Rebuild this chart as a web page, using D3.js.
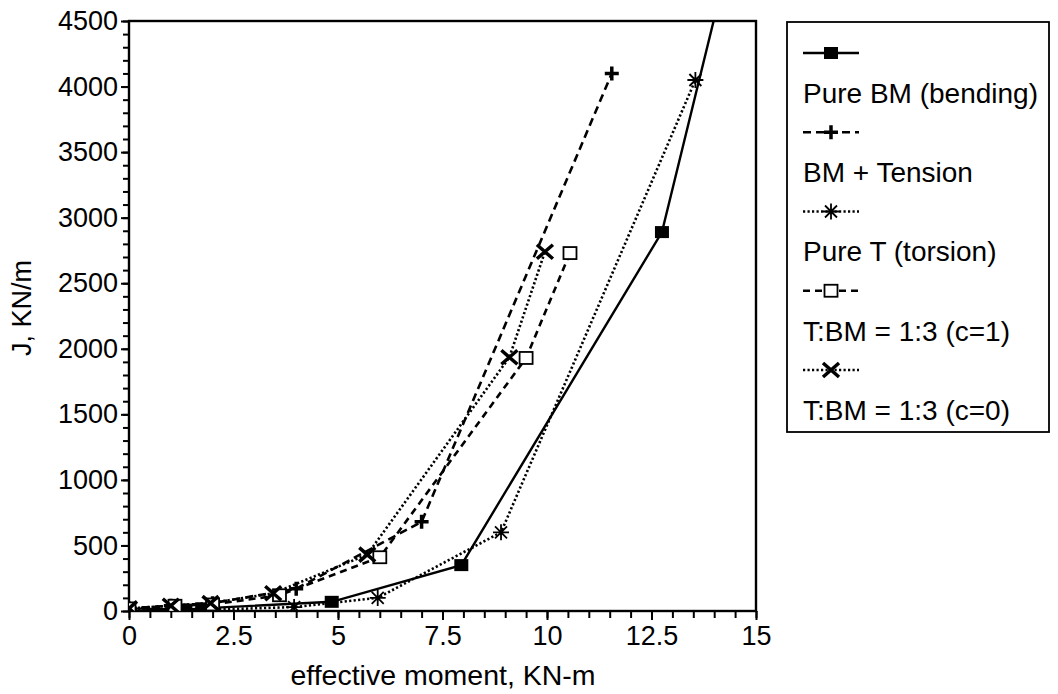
<!DOCTYPE html>
<html>
<head>
    <title>J vs effective moment</title>
    <style>
        body {
            margin: 0;
            background: #fff;
        }
        svg text {
            font-family: "Liberation Sans", Arial, Helvetica, sans-serif;
            fill: #000;
        }
    </style>
</head>
<body>
    <svg id="chart" width="1058" height="694"></svg>

    <script src="https://d3js.org/d3.v7.min.js"></script>
    <script>
        // values: [effective moment KN-m, J KN/m]
        const pureBM = [[0, 20], [1.35, 10], [1.75, 20], [4.85, 70], [7.95, 350], [12.75, 2890], [14.6, 5300]];
        const bmTension = [[0, 20], [1.0, 40], [2.0, 60], [4.0, 170], [7.0, 680], [11.55, 4100]];
        const pureT = [[0, 10], [1.95, 10], [3.95, 30], [5.95, 100], [8.9, 600], [13.55, 4050]];
        const ratioC1 = [[0, 20], [1.1, 40], [2.0, 50], [3.6, 120], [6.0, 410], [9.5, 1930], [10.55, 2730]];
        const ratioC0 = [[0, 20], [1.0, 40], [1.95, 60], [3.45, 135], [5.7, 430], [9.1, 1935], [9.95, 2740]];

        const seriesNames = ['Pure BM (bending)', 'BM + Tension', 'Pure T (torsion)', 'T:BM = 1:3 (c=1)', 'T:BM = 1:3 (c=0)'];
        const xTicks = [0, 2.5, 5, 7.5, 10, 12.5, 15];
        const yTicks = [0, 500, 1000, 1500, 2000, 2500, 3000, 3500, 4000, 4500];

        const series = [
            { name: seriesNames[0], data: pureBM, dash: null, width: 2.4, marker: 'fsquare' },
            { name: seriesNames[1], data: bmTension, dash: '8,5', width: 2.6, marker: 'plus' },
            { name: seriesNames[2], data: pureT, dash: '2.2,2.3', width: 2.6, marker: 'star' },
            { name: seriesNames[3], data: ratioC1, dash: '7,5', width: 2.6, marker: 'osquare' },
            { name: seriesNames[4], data: ratioC0, dash: '2.2,2.3', width: 2.6, marker: 'cross' }
        ];

        const svg = d3.select('#chart');
        const plotLeft = 129, plotRight = 756, plotTop = 21, plotBottom = 611;

        const x = d3.scaleLinear().domain([0, 15]).range([plotLeft, plotRight]);
        const y = d3.scaleLinear().domain([0, 4500]).range([plotBottom, plotTop]);

        // minor ticks
        svg.append('g')
            .attr('transform', `translate(0,${plotBottom})`)
            .call(d3.axisBottom(x).tickValues(d3.range(0, 15.01, 0.5)).tickSize(7).tickSizeOuter(0).tickFormat(''))
            .call(g => g.select('.domain').remove())
            .selectAll('line').attr('stroke-width', 2);
        svg.append('g')
            .attr('transform', `translate(${plotLeft},0)`)
            .call(d3.axisLeft(y).tickValues(d3.range(0, 4501, 100)).tickSize(6).tickSizeOuter(0).tickFormat(''))
            .call(g => g.select('.domain').remove())
            .selectAll('line').attr('stroke-width', 2);

        // major ticks + labels
        const xAxis = svg.append('g')
            .attr('transform', `translate(0,${plotBottom})`)
            .call(d3.axisBottom(x).tickValues(xTicks).tickSize(9).tickSizeOuter(0).tickPadding(6).tickFormat(d => String(d)));
        xAxis.select('.domain').remove();
        xAxis.selectAll('line').attr('stroke-width', 2);
        xAxis.selectAll('text').attr('font-size', 27).attr('font-family', null);

        const yAxis = svg.append('g')
            .attr('transform', `translate(${plotLeft},0)`)
            .call(d3.axisLeft(y).tickValues(yTicks).tickSize(8).tickSizeOuter(0).tickPadding(3).tickFormat(d => String(d)));
        yAxis.select('.domain').remove();
        yAxis.selectAll('line').attr('stroke-width', 2);
        yAxis.selectAll('text').attr('font-size', 27).attr('font-family', null);

        // frame
        svg.append('rect')
            .attr('x', plotLeft).attr('y', plotTop)
            .attr('width', plotRight - plotLeft).attr('height', plotBottom - plotTop)
            .attr('fill', 'none').attr('stroke', '#000').attr('stroke-width', 2.4);

        // axis titles
        svg.append('text')
            .attr('x', 443).attr('y', 685)
            .attr('text-anchor', 'middle').attr('font-size', 28.5)
            .text('effective moment, KN-m');
        svg.append('text')
            .attr('transform', 'translate(31,308) rotate(-90)')
            .attr('text-anchor', 'middle').attr('font-size', 27)
            .text('J, KN/m');

        svg.append('clipPath').attr('id', 'plot-clip')
            .append('rect').attr('x', plotLeft).attr('y', plotTop)
            .attr('width', plotRight - plotLeft).attr('height', plotBottom - plotTop);

        function drawMarker(g, type, cx, cy) {
            if (type === 'fsquare') {
                g.append('rect').attr('x', cx - 7).attr('y', cy - 6).attr('width', 14).attr('height', 12).attr('fill', '#000');
            } else if (type === 'osquare') {
                g.append('rect').attr('x', cx - 6.5).attr('y', cy - 6).attr('width', 13).attr('height', 12)
                    .attr('fill', '#fff').attr('stroke', '#000').attr('stroke-width', 1.8);
            } else if (type === 'plus') {
                g.append('path').attr('d', `M${cx - 7},${cy}H${cx + 7}M${cx},${cy - 7}V${cy + 7}`)
                    .attr('stroke', '#000').attr('stroke-width', 3.5);
            } else if (type === 'star') {
                g.append('path').attr('d', `M${cx - 8},${cy}H${cx + 8}M${cx},${cy - 8}V${cy + 8}M${cx - 6},${cy - 6}L${cx + 6},${cy + 6}M${cx - 6},${cy + 6}L${cx + 6},${cy - 6}`)
                    .attr('stroke', '#000').attr('stroke-width', 1.8);
            } else if (type === 'cross') {
                g.append('path').attr('d', `M${cx - 8},${cy - 7}L${cx + 8},${cy + 7}M${cx - 8},${cy + 7}L${cx + 8},${cy - 7}`)
                    .attr('stroke', '#000').attr('stroke-width', 3.5);
            }
        }

        const line = d3.line().x(d => x(d[0])).y(d => y(d[1]));
        const plot = svg.append('g').attr('clip-path', 'url(#plot-clip)');

        series.forEach(s => {
            plot.append('path')
                .attr('d', line(s.data))
                .attr('fill', 'none')
                .attr('stroke', '#000')
                .attr('stroke-width', s.width)
                .attr('stroke-dasharray', s.dash);
        });
        series.forEach(s => {
            const mg = plot.append('g');
            s.data.forEach(d => drawMarker(mg, s.marker, x(d[0]), y(d[1])));
        });

        // legend
        const legend = svg.append('g');
        legend.append('rect')
            .attr('x', 787).attr('y', 22).attr('width', 262).attr('height', 410)
            .attr('fill', 'none').attr('stroke', '#000').attr('stroke-width', 1.8);

        series.forEach((s, i) => {
            const ly = 53 + i * 79.25;
            legend.append('line')
                .attr('x1', 803).attr('x2', 859).attr('y1', ly).attr('y2', ly)
                .attr('stroke', '#000').attr('stroke-width', 2.4)
                .attr('stroke-dasharray', s.dash);
            drawMarker(legend, s.marker, 831, ly);
            legend.append('text')
                .attr('x', 803).attr('y', ly + 40).attr('dy', '0.35em')
                .attr('font-size', 28)
                .text(s.name);
        });
    </script>
</body>
</html>
